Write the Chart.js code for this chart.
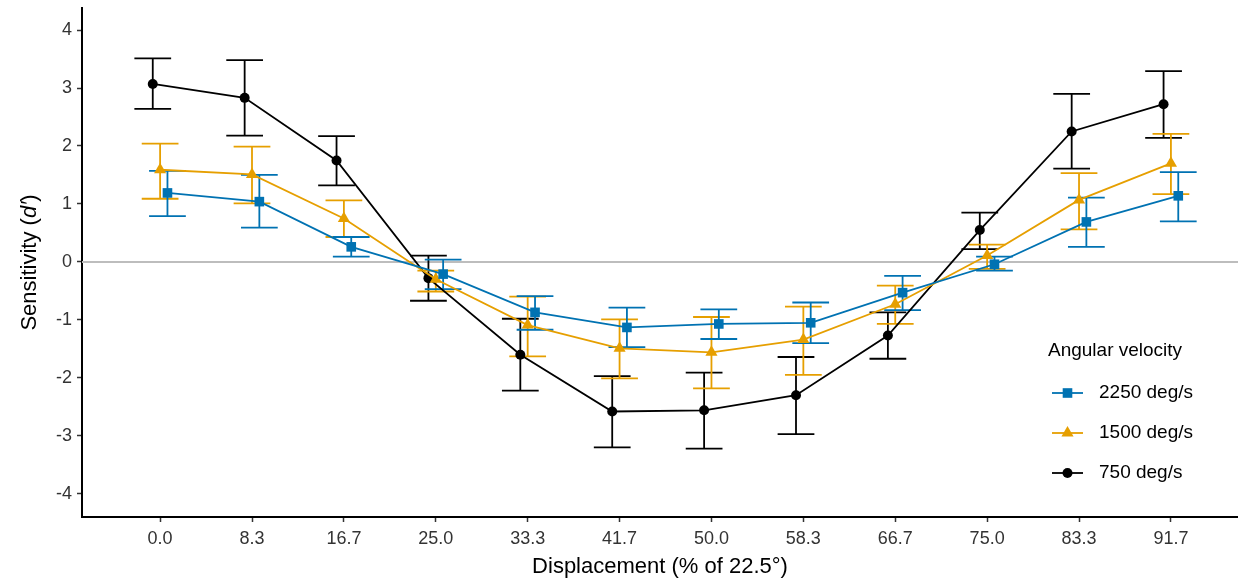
<!DOCTYPE html>
<html>
<head>
<meta charset="utf-8">
<script src="https://cdn.jsdelivr.net/npm/chart.js@4.4.0/dist/chart.umd.min.js"></script>
<style>
  html, body { margin: 0; padding: 0; background: #fff; overflow: hidden; }
  canvas { display: block; }
</style>
</head>
<body>
<canvas id="chart" width="1238" height="583"></canvas>
<script>
const displacement = ['0.0', '8.3', '16.7', '25.0', '33.3', '41.7', '50.0', '58.3', '66.7', '75.0', '83.3', '91.7'];
const yTicks = [-4, -3, -2, -1, 0, 1, 2, 3, 4];

// mean d' and error bar limits per angular velocity
const d2250 = [1.19, 1.04, 0.26, -0.21, -0.87, -1.13, -1.07, -1.05, -0.53, -0.04, 0.69, 1.14];
const lo2250 = [0.79, 0.59, 0.09, -0.47, -1.17, -1.47, -1.33, -1.40, -0.83, -0.15, 0.26, 0.70];
const hi2250 = [1.57, 1.50, 0.43, 0.04, -0.59, -0.79, -0.82, -0.70, -0.24, 0.09, 1.11, 1.55];

const d1500 = [1.59, 1.51, 0.75, -0.30, -1.09, -1.49, -1.56, -1.34, -0.73, 0.11, 1.07, 1.70];
const lo1500 = [1.09, 1.01, 0.43, -0.51, -1.63, -2.01, -2.18, -1.95, -1.07, -0.12, 0.56, 1.17];
const hi1500 = [2.04, 1.99, 1.06, -0.15, -0.60, -0.99, -0.95, -0.77, -0.41, 0.30, 1.53, 2.21];

const d750 = [3.07, 2.83, 1.75, -0.28, -1.60, -2.58, -2.56, -2.30, -1.27, 0.55, 2.25, 2.72];
const lo750 = [2.64, 2.18, 1.32, -0.67, -2.22, -3.20, -3.22, -2.97, -1.67, 0.22, 1.61, 2.14];
const hi750 = [3.51, 3.48, 2.17, 0.11, -0.98, -1.97, -1.91, -1.64, -0.87, 0.85, 2.90, 3.29];

const FONT = '"Liberation Sans", Arial, sans-serif';
const dodge = 0.08;
const capHalf = 0.2;

function series(label, vals, lo, hi, shift, color, style, radius) {
  return {
    label,
    data: vals.map((v, i) => ({ x: i + shift, y: v })),
    lo, hi,
    borderColor: color,
    backgroundColor: color,
    borderWidth: 1.8,
    pointStyle: style,
    pointRadius: radius,
    pointBorderWidth: 0,
    pointHoverRadius: radius,
    tension: 0
  };
}

const datasets = [
  series('2250 deg/s', d2250, lo2250, hi2250, dodge, '#0072B2', 'rect', 6.8),
  series('1500 deg/s', d1500, lo1500, hi1500, 0, '#E69F00', 'triangle', 7),
  series('750 deg/s', d750, lo750, hi750, -dodge, '#000000', 'circle', 5)
];

// axes get no extra room for their edge labels
function noPadding(s) {
  s.paddingTop = 0; s.paddingBottom = 0;
  s.paddingLeft = 0; s.paddingRight = 0;
}

// zero reference line + error bars, under the lines and points
const errorBars = {
  id: 'errorBars',
  beforeDatasetsDraw(chart) {
    const { ctx, chartArea, scales: { x, y } } = chart;
    ctx.save();
    ctx.strokeStyle = '#bdbdbd';
    ctx.lineWidth = 2;
    const y0 = y.getPixelForValue(0);
    ctx.beginPath();
    ctx.moveTo(chartArea.left, y0);
    ctx.lineTo(chartArea.right, y0);
    ctx.stroke();

    ctx.lineWidth = 1.8;
    chart.data.datasets.slice().reverse().forEach(ds => {
      ctx.strokeStyle = ds.borderColor;
      ds.data.forEach((p, i) => {
        const px = x.getPixelForValue(p.x);
        const l = x.getPixelForValue(p.x - capHalf);
        const r = x.getPixelForValue(p.x + capHalf);
        const top = y.getPixelForValue(ds.hi[i]);
        const bot = y.getPixelForValue(ds.lo[i]);
        ctx.beginPath();
        ctx.moveTo(px, top); ctx.lineTo(px, bot);
        ctx.moveTo(l, top); ctx.lineTo(r, top);
        ctx.moveTo(l, bot); ctx.lineTo(r, bot);
        ctx.stroke();
      });
    });
    ctx.restore();
  }
};

// axis titles and the legend inside the panel
const labelsAndLegend = {
  id: 'labelsAndLegend',
  afterDraw(chart) {
    const { ctx, chartArea } = chart;
    ctx.save();
    ctx.fillStyle = '#000';
    ctx.textBaseline = 'middle';

    // x title
    ctx.font = '22px ' + FONT;
    ctx.textAlign = 'center';
    ctx.fillText('Displacement (% of 22.5°)', (chartArea.left + chartArea.right) / 2, 567);

    // y title with italic d′
    const parts = [['Sensitivity (', ''], ["d′", 'italic '], [')', '']];
    const widths = parts.map(([t, s]) => { ctx.font = s + '22px ' + FONT; return ctx.measureText(t).width; });
    const total = widths.reduce((a, b) => a + b, 0);
    ctx.translate(30, (chartArea.top + chartArea.bottom) / 2);
    ctx.rotate(-Math.PI / 2);
    ctx.textAlign = 'left';
    let cx = -total / 2;
    parts.forEach(([t, s], k) => {
      ctx.font = s + '22px ' + FONT;
      ctx.fillText(t, cx, 0);
      cx += widths[k];
    });
    ctx.setTransform(1, 0, 0, 1, 0, 0);

    // legend
    ctx.font = '19px ' + FONT;
    ctx.textAlign = 'left';
    ctx.fillText('Angular velocity', 1048, 351);
    chart.data.datasets.forEach((ds, k) => {
      const ly = 393 + k * 40;
      ctx.strokeStyle = ds.borderColor;
      ctx.fillStyle = ds.backgroundColor;
      ctx.lineWidth = 1.8;
      ctx.beginPath();
      ctx.moveTo(1052, ly); ctx.lineTo(1083, ly);
      ctx.stroke();
      Chart.helpers.drawPoint(ctx, { pointStyle: ds.pointStyle, radius: ds.pointRadius, rotation: 0, borderWidth: 0 }, 1067.5, ly);
      ctx.fillStyle = '#000';
      ctx.fillText(ds.label, 1099, ly);
    });
    ctx.restore();
  }
};

new Chart(document.getElementById('chart'), {
  type: 'line',
  data: { datasets },
  options: {
    responsive: false,
    animation: false,
    layout: { autoPadding: false, padding: { top: 8, right: 0, left: 0, bottom: 0 } },
    plugins: { legend: { display: false }, tooltip: { enabled: false } },
    scales: {
      x: {
        type: 'linear',
        min: -0.85,
        max: 11.73,
        afterFit: s => { s.height = 66; noPadding(s); },
        afterBuildTicks: s => { s.ticks = displacement.map((_, i) => ({ value: i })); },
        ticks: {
          callback: v => displacement[v],
          font: { family: FONT, size: 18 },
          color: '#333',
          padding: 6,
          maxRotation: 0,
          autoSkip: false
        },
        grid: { drawOnChartArea: false, tickLength: 5, color: '#333', tickWidth: 1.5 },
        border: { display: true, color: '#000', width: 2 }
      },
      y: {
        min: -4.4,
        max: 4.38,
        afterFit: s => { s.width = 82; noPadding(s); },
        afterBuildTicks: s => { s.ticks = yTicks.map(v => ({ value: v })); },
        ticks: {
          font: { family: FONT, size: 18 },
          color: '#333',
          padding: 5
        },
        grid: { drawOnChartArea: false, tickLength: 5, color: '#333', tickWidth: 1.5 },
        border: { display: true, color: '#000', width: 2 }
      }
    }
  },
  plugins: [errorBars, labelsAndLegend]
});
</script>
</body>
</html>
